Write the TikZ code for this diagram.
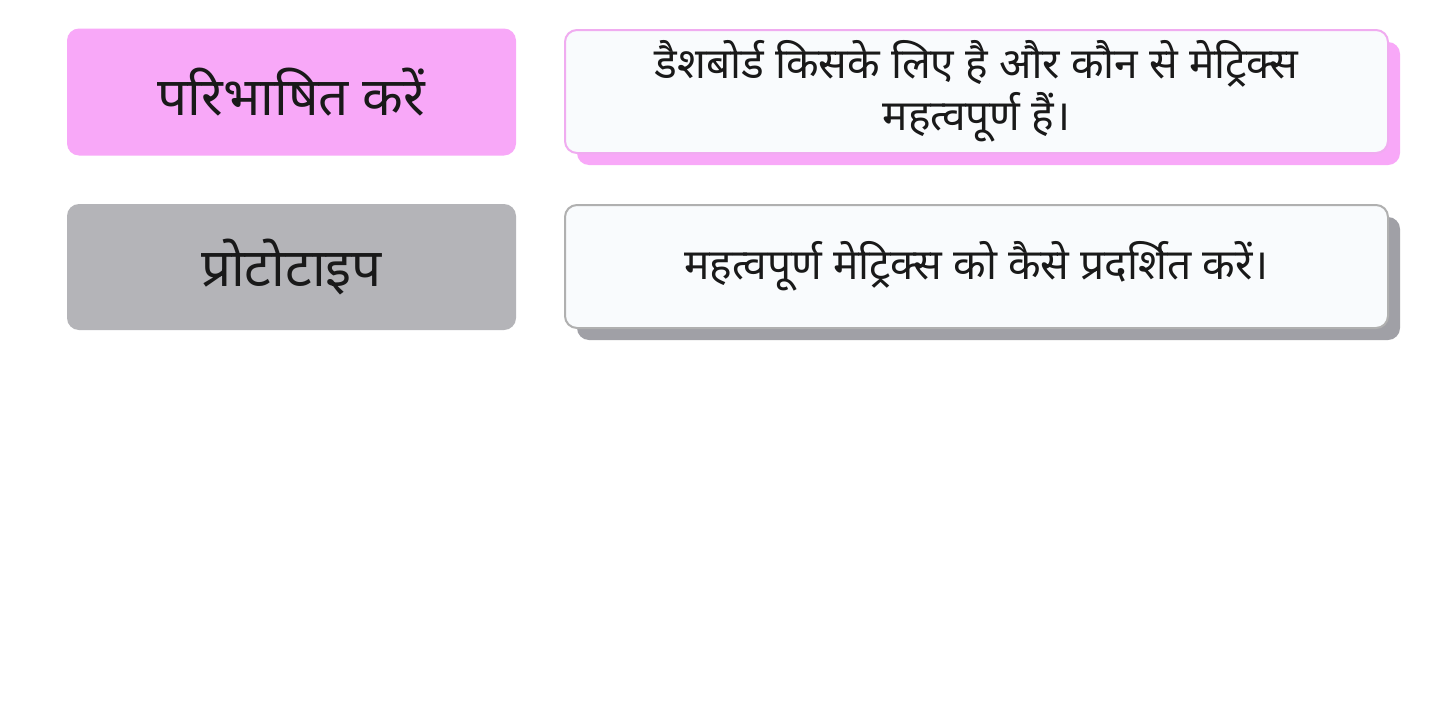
\documentclass[tikz,border=0pt]{standalone}
\usepackage{fontspec}
\newfontfamily\deva[Script=Devanagari]{Noto Sans}
\definecolor{pinkfill}{HTML}{F8A8F8}
\definecolor{pinkline}{HTML}{F0ACF0}
\definecolor{grayfill}{HTML}{B4B4B8}
\definecolor{grayshadow}{HTML}{A0A0A6}
\definecolor{grayline}{HTML}{B0B0B0}
\definecolor{cardfill}{HTML}{F9FBFD}
\tikzset{
  labelbox/.style={rounded corners=12pt, inner sep=0pt, font=\deva\fontsize{53}{60}\selectfont, text=black!90},
  cardbox/.style={rounded corners=12pt, line width=2pt, fill=cardfill, inner sep=0pt, align=center, font=\deva\fontsize{42.5}{52}\selectfont, text=black!90},
}
\begin{document}
\begin{tikzpicture}[x=1pt,y=-1pt]
\useasboundingbox (0,0) rectangle (1436,715);
\fill[white] (0,0) rectangle (1436,715);
% row 1
\node[labelbox, fill=pinkfill, minimum width=449pt, minimum height=127pt] (def) at (291.5,92) {परिभाषित करें};
\fill[pinkfill, rounded corners=12pt] (577,42) rectangle (1400,165);
\node[cardbox, draw=pinkline, minimum width=823pt, minimum height=123pt] (defc) at (976.5,91.5) {डैशबोर्ड किसके लिए है और कौन से मेट्रिक्स\\महत्वपूर्ण हैं।};
% row 2
\node[labelbox, fill=grayfill, minimum width=449pt, minimum height=126pt] (pro) at (291.5,267) {प्रोटोटाइप};
\fill[grayshadow, rounded corners=12pt] (577,217) rectangle (1400,340);
\node[cardbox, draw=grayline, minimum width=823pt, minimum height=123pt] (proc) at (976.5,266.5) {महत्वपूर्ण मेट्रिक्स को कैसे प्रदर्शित करें।};
\end{tikzpicture}
\end{document}
